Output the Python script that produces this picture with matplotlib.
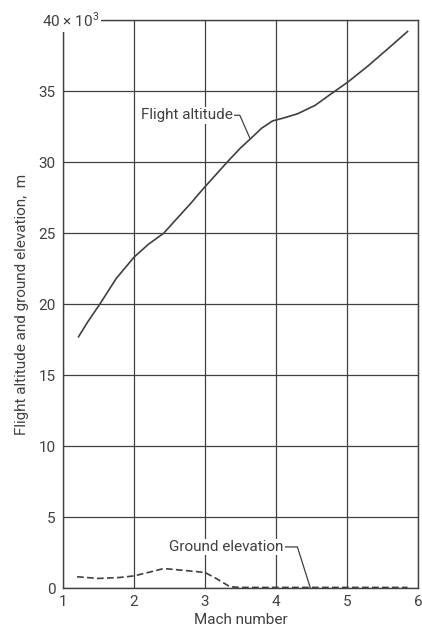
import numpy as np
import matplotlib.pyplot as plt

# flight altitude, m (x 10^3) vs Mach number
mach_alt = [1.22, 1.35, 1.52, 1.75, 2.0, 2.2, 2.42, 2.6, 2.8, 2.97, 3.15, 3.33, 3.5, 3.63, 3.8, 3.95, 4.1, 4.3, 4.55, 4.8, 5.0, 5.3, 5.6, 5.85]
altitude = [17.7, 18.75, 20.0, 21.8, 23.3, 24.2, 25.0, 26.0, 27.1, 28.1, 29.1, 30.1, 31.0, 31.6, 32.4, 32.9, 33.1, 33.4, 34.0, 34.9, 35.6, 36.8, 38.1, 39.2]

# ground elevation, m (x 10^3)
mach_gnd = [1.2, 1.5, 1.8, 2.0, 2.2, 2.42, 2.7, 3.0, 3.15, 3.35, 3.5, 4.0, 5.0, 5.85]
ground = [0.8, 0.68, 0.75, 0.86, 1.1, 1.38, 1.25, 1.1, 0.7, 0.1, 0.05, 0.05, 0.05, 0.05]

xticks = [1, 2, 3, 4, 5, 6]
yticks = [0, 5, 10, 15, 20, 25, 30, 35, 40]
ytick_labels = ["0", "5", "10", "15", "20", "25", "30", "35", ""]

plt.rcParams['font.family'] = ['Roboto', 'DejaVu Sans']
plt.rcParams['mathtext.fontset'] = 'custom'
plt.rcParams['mathtext.rm'] = 'Roboto'
ink = '#404040'
fs = 11

fig = plt.figure(figsize=(4.22, 6.29), dpi=100)
ax = fig.add_axes([0.149, 0.065, 0.842, 0.903])

ax.plot(mach_alt, altitude, color=ink, lw=1.2)
ax.plot(mach_gnd, ground, color=ink, lw=1.2, ls=(0, (4, 2)))

ax.set_xlim(1, 6)
ax.set_ylim(0, 40)
ax.set_xticks(xticks)
ax.set_yticks(yticks)
ax.set_yticklabels(ytick_labels)
ax.tick_params(length=0, pad=5, labelsize=fs, colors=ink)
ax.grid(True, color=ink, lw=0.9)
for s in ax.spines.values():
    s.set_color(ink)
    s.set_linewidth(1.0)

ax.text(0.70, 40, r"40 $\times$ 10$^3$", ha='left', va='center', fontsize=fs,
        color=ink, clip_on=False, zorder=10,
        bbox=dict(facecolor='white', edgecolor='none', pad=1.5))

ax.set_xlabel("Mach number", fontsize=fs, color=ink, labelpad=3)
ax.set_ylabel("Flight altitude and ground elevation,  m", fontsize=fs, color=ink, labelpad=7)

# callouts
ax.text(3.39, 33.3, "Flight altitude", ha='right', va='center', fontsize=fs, color=ink,
        bbox=dict(facecolor='white', edgecolor='none', pad=1))
ax.plot([3.41, 3.49, 3.63], [33.3, 33.3, 31.7], color=ink, lw=0.9)

ax.text(4.1, 2.9, "Ground elevation", ha='right', va='center', fontsize=fs, color=ink,
        bbox=dict(facecolor='white', edgecolor='none', pad=1))
ax.plot([4.12, 4.3, 4.48], [2.9, 2.9, 0.05], color=ink, lw=0.9)

fig.savefig("out.png", dpi=100)
